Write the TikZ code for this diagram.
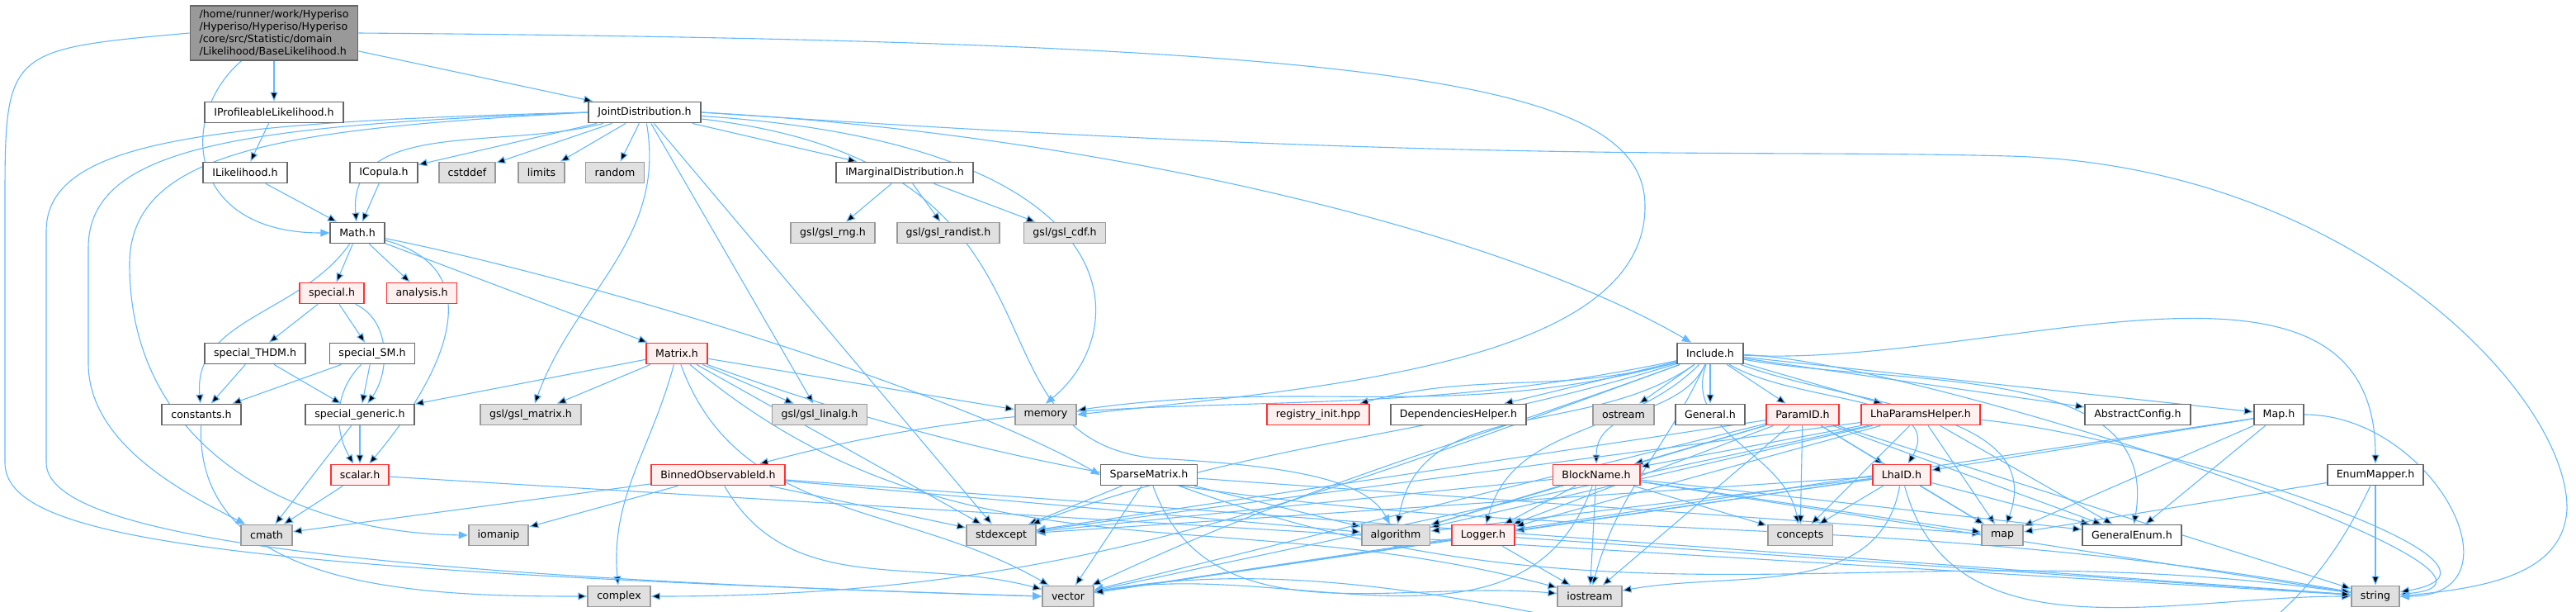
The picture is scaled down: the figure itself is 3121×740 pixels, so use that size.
\documentclass[tikz,border=0pt]{standalone}
\usepackage{fontspec}
\setmainfont{DejaVu Sans}
\usetikzlibrary{arrows.meta}
\definecolor{edgeblue}{HTML}{63B8FF}
\definecolor{sysfill}{HTML}{E0E0E0}
\definecolor{sysline}{HTML}{999999}
\definecolor{fileline}{HTML}{666666}
\definecolor{truncfill}{HTML}{FFF0F0}
\definecolor{truncline}{HTML}{FF3030}
\definecolor{rootfill}{HTML}{999999}
\pgfdeclarelayer{bg}
\pgfsetlayers{bg,main}

\begin{document}
\begin{tikzpicture}[x=0.5pt,y=-0.5pt,
  file node/.style={rectangle,draw=fileline,fill=white,line width=0.9pt,
    minimum height=12.5pt,inner xsep=5.5pt,inner ysep=0pt,font=\fontsize{6.3}{7.5}\selectfont},
  sys node/.style={file node,draw=sysline,fill=sysfill},
  trunc node/.style={file node,draw=truncline,fill=truncfill},
  root node/.style={file node,fill=rootfill,align=left,inner ysep=2.5pt},
  inc/.style={draw=edgeblue,line width=0.55pt,-{Triangle[length=5.5pt,width=4.5pt]}}]

  \useasboundingbox (0,0) rectangle (3121,740);

  % row 0-1
  \node[root node] (BL) at (332,40) {/home/runner/work/Hyperiso\\/Hyperiso/Hyperiso/Hyperiso\\/core/src/Statistic/domain\\/Likelihood/BaseLikelihood.h};
  \node[file node] (IPL) at (332,136) {IProfileableLikelihood.h};
  \node[file node] (JD) at (781,136) {JointDistribution.h};

  % row 2
  \node[file node] (ILik) at (297,209) {ILikelihood.h};
  \node[file node] (ICop) at (465,209) {ICopula.h};
  \node[sys node] (cstddef) at (566,209) {cstddef};
  \node[sys node] (limits) at (656,209) {limits};
  \node[sys node] (random) at (745,209) {random};
  \node[file node] (IMarg) at (1096,209) {IMarginalDistribution.h};

  % row 3
  \node[file node] (Math) at (433,282) {Math.h};
  \node[sys node] (rng) at (1009,282) {gsl/gsl\_rng.h};
  \node[sys node] (randist) at (1149,282) {gsl/gsl\_randist.h};
  \node[sys node] (cdf) at (1290,282) {gsl/gsl\_cdf.h};

  % row 4
  \node[trunc node] (special) at (402,355) {special.h};
  \node[trunc node] (analysis) at (511,355) {analysis.h};

  % row 5
  \node[file node] (THDM) at (309,428) {special\_THDM.h};
  \node[file node] (SM) at (451,428) {special\_SM.h};
  \node[trunc node] (Matrix) at (820,428) {Matrix.h};
  \node[file node] (Include) at (2072,428) {Include.h};

  % row 6
  \node[file node] (constants) at (244,502) {constants.h};
  \node[file node] (generic) at (436,502) {special\_generic.h};
  \node[sys node] (gslmatrix) at (643,502) {gsl/gsl\_matrix.h};
  \node[sys node] (linalg) at (993,502) {gsl/gsl\_linalg.h};
  \node[sys node] (memory) at (1267,502) {memory};
  \node[trunc node] (registry) at (1597,502) {registry\_init.hpp};
  \node[file node] (Deps) at (1767,502) {DependenciesHelper.h};
  \node[sys node] (ostream) at (1967,502) {ostream};
  \node[file node] (General) at (2072,502) {General.h};
  \node[trunc node] (ParamID) at (2184,502) {ParamID.h};
  \node[trunc node] (LhaPH) at (2327,502) {LhaParamsHelper.h};
  \node[file node] (AbsConf) at (2590,502) {AbstractConfig.h};
  \node[file node] (MapH) at (2761,502) {Map.h};

  % row 7
  \node[trunc node] (scalar) at (436,575) {scalar.h};
  \node[trunc node] (Binned) at (870,575) {BinnedObservableId.h};
  \node[file node] (Sparse) at (1392,575) {SparseMatrix.h};
  \node[trunc node] (BlockName) at (1934,575) {BlockName.h};
  \node[trunc node] (LhaID) at (2304,575) {LhaID.h};
  \node[file node] (EnumMapper) at (2878,575) {EnumMapper.h};

  % row 8
  \node[sys node] (cmath) at (323,648) {cmath};
  \node[sys node] (iomanip) at (604,648) {iomanip};
  \node[sys node] (stdexcept) at (1213,648) {stdexcept};
  \node[sys node] (algorithm) at (1691,648) {algorithm};
  \node[trunc node] (Logger) at (1797,648) {Logger.h};
  \node[sys node] (concepts) at (2181,648) {concepts};
  \node[sys node] (map) at (2426,648) {map};
  \node[file node] (GenEnum) at (2583,648) {GeneralEnum.h};

  % row 9
  \node[sys node] (complex) at (750,722) {complex};
  \node[sys node] (vector) at (1294,722) {vector};
  \node[sys node] (iostream) at (1926,722) {iostream};
  \node[sys node] (string) at (2878,722) {string};

  \begin{pgfonlayer}{bg}
  \path[inc]
    (BL) edge (IPL)
         edge (JD)
    (IPL) edge (ILik)
    (ILik) edge (Math)
    (ICop) edge (Math)
    (JD) edge (ICop) edge (cstddef) edge (limits) edge (random)
         edge (IMarg) edge (linalg) edge (stdexcept)
         edge [out=195,in=95] (Math)
         edge [out=-80,in=70] (gslmatrix)
    (IMarg) edge (rng) edge (randist) edge (cdf)
    (Math) edge (special) edge (analysis) edge (Matrix)
         edge [out=235,in=95] (constants)
         edge [out=-15,in=50,looseness=1.3] (scalar)
    (special) edge (THDM) edge (SM)
         edge [out=-25,in=55] (generic)
    (THDM) edge (constants) edge (generic)
    (SM) edge (constants) edge (generic)
         edge [out=225,in=120] (scalar)
    (generic) edge (scalar) edge (cmath)
    (scalar) edge (cmath) edge (string)
    (constants) edge [out=-92,in=180] (complex)
    (Matrix) edge (generic) edge (gslmatrix) edge (linalg) edge (memory)
         edge (stdexcept)
         edge [out=-105,in=95] (complex)
         edge [out=-70,in=150] (vector)
         edge [out=-40,in=165] (iostream)
         edge [out=-20,in=170] (string)
    (Binned) edge (cmath) edge (iomanip) edge (stdexcept) edge (algorithm)
         edge (string)
         edge [out=-60,in=165] (vector)
    (Sparse) edge (stdexcept) edge (vector) edge (algorithm) edge (map)
         edge [out=-70,in=175] (iostream)
         edge [out=-20,in=172] (string)
    (Include) edge (Deps) edge (ostream) edge (General) edge (ParamID)
         edge (LhaPH) edge (AbsConf) edge (MapH)
         edge [out=195,in=8] (memory)
         edge [out=195,in=15] (registry)
         edge [out=192,in=15] (Binned)
         edge [out=200,in=0] (complex)
         edge [out=200,in=25] (vector)
         edge [out=197,in=20] (stdexcept)
         edge [out=215,in=80] (algorithm)
         edge [out=225,in=75] (Logger)
         edge [out=245,in=90] (BlockName)
         edge [out=-30,in=60] (LhaID)
         edge [out=-20,in=70] (map)
         edge [out=-10,in=80] (GenEnum)
         edge [out=250,in=100] (concepts)
         edge [out=245,in=75] (iostream)
         edge [out=-3,in=90] (EnumMapper)
         edge [out=-2,in=5,looseness=0.65] (string)
    (ParamID) edge (BlockName) edge (LhaID) edge (concepts) edge (map)
         edge (GenEnum) edge (iostream) edge (stdexcept) edge (algorithm)
         edge (Logger) edge (vector) edge (string)
    (LhaPH) edge (BlockName) edge (Logger) edge (concepts) edge (map)
         edge (GenEnum) edge (stdexcept) edge (algorithm) edge (vector)
         edge [out=-5,in=10,looseness=0.9] (string)
    (LhaID) edge (concepts) edge (map) edge (GenEnum) edge (algorithm)
         edge (stdexcept) edge (Logger) edge (vector)
         edge [out=-100,in=10] (iostream)
         edge [out=-75,in=180] (string)
    (MapH) edge (LhaID) edge (map) edge (GenEnum) edge (vector)
         edge [out=0,in=0,looseness=1.6] (string)
    (EnumMapper) edge (map) edge (string)
         edge [out=-115,in=10] (vector)
    (BlockName) edge (stdexcept) edge (algorithm) edge (Logger) edge (iostream)
         edge (concepts) edge (map) edge (GenEnum) edge (string)
         edge [out=-110,in=10] (vector)
    (Logger) edge (vector) edge (iostream) edge (string);

  % long routes round the outside
  \draw[inc] (BL) .. controls (215,140) and (225,282) .. (Math.west);
  \draw[inc] (BL.west) .. controls (6,60) .. (6,250) -- (6,560)
    .. controls (6,650) and (250,690) .. (vector.west);
  \draw[inc] (JD.west) .. controls (250,148) and (56,170) .. (56,280) -- (56,560)
    .. controls (56,640) and (350,695) .. (vector.west);
  \draw[inc] (JD.west) .. controls (300,152) and (107,175) .. (107,300) -- (107,440)
    .. controls (107,540) and (230,600) .. (cmath);
  \draw[inc] (JD.west) .. controls (350,156) and (157,180) .. (157,320)
    .. controls (157,540) and (350,645) .. (iomanip.west);
  \draw[inc] (JD) .. controls (1380,175) and (1375,400) .. (memory.north);
  \draw[inc] (JD) .. controls (1330,200) and (1150,530) .. (1400,555)
    .. controls (1600,565) and (1660,590) .. (algorithm);
  \draw[inc] (JD.east) .. controls (1300,160) and (1800,270) .. (Include);
  \draw[inc] (Math) .. controls (700,335) and (1150,470) .. (Sparse.west);
  \draw[inc] (BL.east) .. controls (1700,50) and (1993,100) .. (1993,250)
    .. controls (1993,440) and (1600,470) .. (memory.east);
  \draw[inc] (JD.east) .. controls (1800,200) and (2100,180) .. (2434,189)
    .. controls (2850,200) and (3113,480) .. (3110,617)
    .. controls (3105,700) and (3000,712) .. (string.east);
  \end{pgfonlayer}
\end{tikzpicture}
\end{document}
